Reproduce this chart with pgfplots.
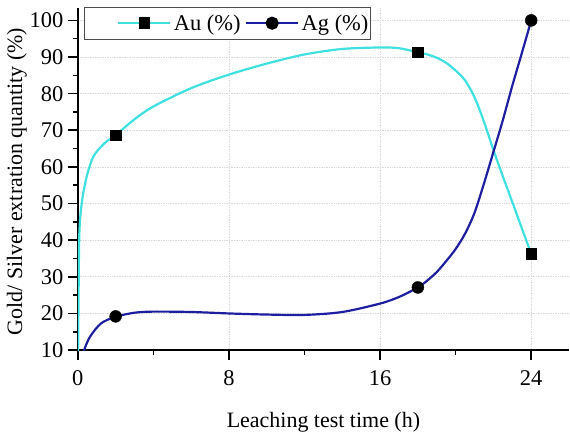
\documentclass[border=0pt]{standalone}
\usepackage{fontspec}
\setmainfont{Liberation Serif}
\usepackage{pgfplots}
\pgfplotsset{compat=1.18}
\definecolor{auc}{HTML}{40E0E0}
\definecolor{agc}{HTML}{1E1EA0}
\pgfplotsset{
    legpad/.style={legend image code/.code={\path (-33pt,0pt);
      \draw[mark repeat=2, mark phase=2, ##1] plot coordinates {(0pt,0pt) (26pt,0pt) (52pt,0pt)};}},
}
\begin{document}
\begin{tikzpicture}
\begin{axis}[
    scale only axis,
    width=492pt, height=342.4pt,
    xmin=0, xmax=26, ymin=10, ymax=103.3,
    axis x line*=bottom, axis y line*=left,
    axis line style={line width=2pt, -},
    xtick={0,8,16,24},
    ytick={10,20,...,100},
    minor x tick num=1, minor y tick num=1,
    tick align=outside,
    major tick length=10pt, minor tick length=5pt,
    every tick/.style={line width=1.6pt, black},
    grid=major,
    grid style={line width=0.7pt, gray!30, densely dotted},
    /pgf/number format/assume math mode=true,
    tick label style={font=\fontsize{22.5}{26}\selectfont},
    xticklabel style={yshift=-7pt},
    yticklabel style={xshift=-1pt},
    label style={font=\fontsize{22}{26}\selectfont},
    xlabel={Leaching test time (h)},
    ylabel={Gold/ Silver extration quantity (\%)},
    xlabel style={at={(axis description cs:0.5,-0.2110)}, anchor=center},
    ylabel style={at={(axis description cs:-0.124,0.493)}, anchor=center},
    legend columns=2,
    legend image code/.code={
      \draw[mark repeat=2, mark phase=2, #1] plot coordinates {(0pt,0pt) (26pt,0pt) (52pt,0pt)};},
    legend style={
        at={(axis description cs:0.0122,1.0047)}, anchor=north west,
        draw=gray!60!black, line width=1pt, fill=white,
        inner xsep=0pt, inner ysep=5pt,
        font=\fontsize{22.5}{26}\selectfont,
        nodes={inner sep=2.5pt},
        /tikz/every even column/.append style={column sep=2pt}
    },
]
% legend samples
\addlegendimage{auc, line width=2.2pt, mark=square*, mark size=4.7pt,
    mark options={black, solid}, legpad}
\addlegendentry{Au (\%)}
\addlegendimage{agc, line width=2.2pt, mark=*, mark size=5.5pt,
    mark options={black, solid}}
\addlegendentry{Ag (\%)}

% Au curve
\addplot[auc, line width=2.2pt, smooth, forget plot] coordinates {
(0.00,0) (0.03,20) (0.08,42) (0.23,51) (0.5,58) (0.84,63) (1.42,66.5) (2,68.7)
(3,73) (4,76.5) (6,81.5) (8,85.2) (10,88.2) (12,90.7) (14,92.2) (16,92.6)
(17,92.4) (18,91.3) (18.5,90.7) (19,89.8) (19.5,88.4) (20,86.3) (20.5,83.6)
(21,79.0) (21.5,72.3) (22,64.6) (22.5,57.4) (23,50.4) (23.5,43.3) (24,36.3)
};
% Ag curve
\addplot[agc, line width=2.2pt, smooth, forget plot] coordinates {
(0.25,8) (0.33,10) (0.65,13.7) (1.23,17.3) (2,19.1) (3,20.2) (4,20.5)
(6,20.4) (8,20.0) (10,19.7) (12,19.6) (14,20.4) (16,22.7) (17,24.5)
(18,27.1) (18.5,29.0) (19,31.3) (19.5,34.3) (20,37.6) (20.5,41.8) (21,47.5)
(21.5,55.5) (22,64.1) (22.5,72.8) (23,82.2) (23.5,91.0) (24,100)
};
% data points
\addplot[only marks, mark=square*, mark size=5.2pt, black, forget plot] coordinates {
(2,68.7) (18,91.3) (24,36.3)
};
\addplot[only marks, mark=*, mark size=6pt, black, forget plot] coordinates {
(2,19.2) (18,27.1) (24,100)
};
\end{axis}
\path ([xshift=-78pt,yshift=-84.3pt]current axis.south west) rectangle ([yshift=8.3pt]current axis.north east);
\end{tikzpicture}
\end{document}
